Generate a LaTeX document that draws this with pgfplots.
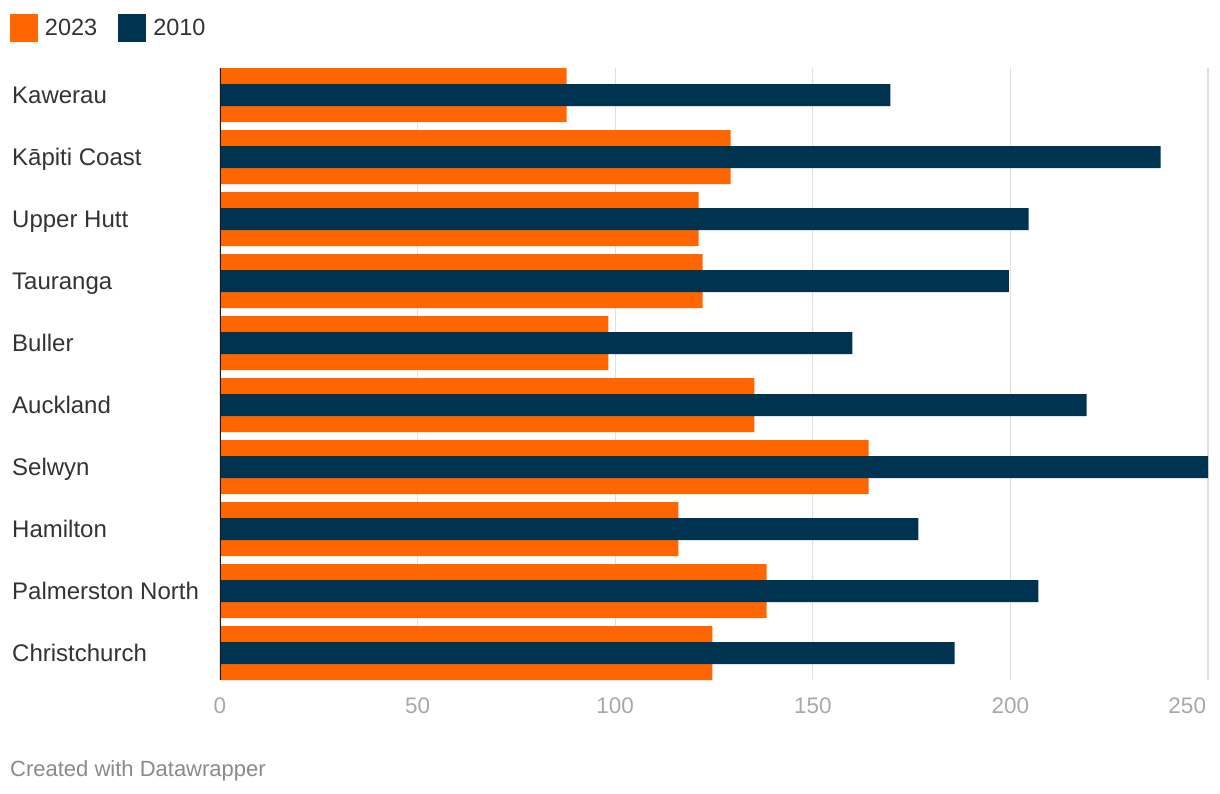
\documentclass[border=0pt]{standalone}
\usepackage{pgfplots}
\pgfplotsset{compat=1.18}
\usepackage{fontspec}
\setmainfont{Liberation Sans}
\definecolor{dwOrange}{HTML}{FF6600}
\definecolor{dwNavy}{HTML}{003350}
\definecolor{gridgray}{HTML}{E0E0E0}
\definecolor{tickgray}{HTML}{A8A8A8}
\definecolor{labeltext}{HTML}{333333}
\definecolor{footgray}{HTML}{8A8A8A}
\definecolor{axisdark}{HTML}{1A1A1A}
\begin{document}
\begin{tikzpicture}[x=1bp,y=1bp]
\path[use as bounding box] (0,0) rectangle (1220,-794);
\begin{axis}[
  at={(220bp,-680bp)}, anchor=south west,
  scale only axis, width=988bp, height=612bp,
  xmin=0, xmax=250,
  ymin=-0.4355, ymax=9.4355, y dir=reverse,
  xbar, bar shift=0pt,
  xtick={0,50,100,150,200,250},
  xticklabels={0,50,100,150,200,\llap{250\kern2bp}},
  ytick={0,1,2,3,4,5,6,7,8,9},
  yticklabels={Kawerau,Kāpiti Coast,Upper Hutt,Tauranga,Buller,Auckland,Selwyn,Hamilton,Palmerston North,Christchurch},
  xmajorgrids, grid style={gridgray, line width=1.3bp},
  major tick length=0pt,
  axis x line*=bottom, x axis line style={draw=none},
  axis y line*=left, y axis line style={draw=none},
  xticklabel style={font=\fontsize{22.5bp}{26bp}\selectfont, text=tickgray, inner sep=0pt, anchor=north, yshift=-18bp},
  yticklabel style={font=\fontsize{24bp}{28bp}\selectfont, text=labeltext, inner sep=0pt, anchor=west, xshift=-208bp, text height=17bp, text depth=0pt},
  legend style={at={(axis description cs:0,1)}, anchor=north west, xshift=-210bp, yshift=54bp,
    draw=none, fill=none, legend columns=2, inner sep=0pt, outer sep=0pt,
    font=\fontsize{23.5bp}{27bp}\selectfont, text=labeltext,
    /tikz/every odd column/.append style={column sep=5bp},
    /tikz/every even column/.append style={column sep=19bp}},
  legend image code/.code={\fill[#1] (0bp,-14bp) rectangle (28bp,14bp);},
]
\addplot[fill=dwOrange, draw=none, bar width=54bp] coordinates {
(87.7,0) (129.2,1) (121.1,2) (122.1,3) (98.3,4) (135.2,5) (164.1,6) (116.0,7) (138.3,8) (124.6,9)};
\addplot[fill=dwNavy, draw=none, bar width=22bp] coordinates {
(169.6,0) (238.0,1) (204.6,2) (199.6,3) (160.0,4) (219.3,5) (250.0,6) (176.7,7) (207.1,8) (185.9,9)};
\legend{2023,2010}
\draw[axisdark, line width=2bp] (rel axis cs:0,0) -- (rel axis cs:0,1);
\end{axis}
\node[anchor=base west, font=\fontsize{22bp}{26bp}\selectfont, text=footgray, inner sep=0pt] at (10,-776) {Created with Datawrapper};
\end{tikzpicture}
\end{document}
